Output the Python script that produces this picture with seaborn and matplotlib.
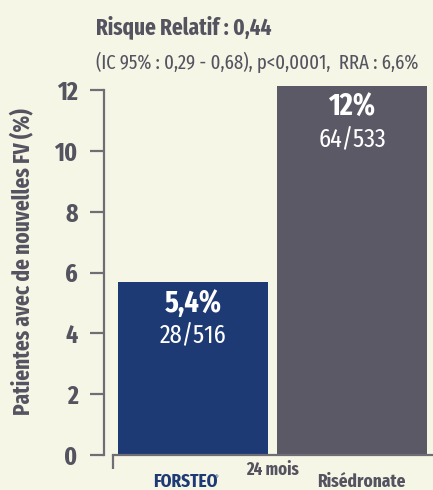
import matplotlib
matplotlib.use("Agg")
import matplotlib.pyplot as plt
import seaborn as sns

# ---- data ----
categories = ["FORSTEO", "Risédronate"]
values = [5.7, 12.15]
pct_labels = ["5,4%", "12%"]
count_labels = ["28/516", "64/533"]
yticks = [0, 2, 4, 6, 8, 10, 12]
title = "Risque Relatif : 0,44"
subtitle = "(IC 95% : 0,29 - 0,68), p<0,0001,  RRA : 6,6%"
ylabel = "Patientes avec de nouvelles FV (%)"
xlabel_mid = "24 mois"

BG = "#F5F6E6"
NAVY = "#1E3A74"
GRAY = "#5B5966"
TEXT = "#55535F"
AXIS = "#6E6E74"
FONT = "Fira Sans Extra Condensed"

sns.set_theme(style="white")
plt.rcParams["font.family"] = [FONT, "DejaVu Sans"]

W, H = 433, 490
fig = plt.figure(figsize=(W / 100, H / 100), dpi=100, facecolor=BG)

px_per_unit = 30.4
y0 = 455
ytop = 12.5
ax = fig.add_axes([104 / W, (H - y0) / H, (W - 104) / W, ytop * px_per_unit / H])
ax.set_facecolor(BG)

sns.barplot(x=categories, y=values, hue=categories, palette=[NAVY, GRAY],
            width=0.943, saturation=1, legend=False, ax=ax, linewidth=0)

spacing = 159.0
c0 = 193.0
ax.set_xlim(-(c0 - 104) / spacing, (W - c0) / spacing)
ax.set_ylim(0, ytop)

for s in ["top", "right"]:
    ax.spines[s].set_visible(False)
for s in ["left", "bottom"]:
    ax.spines[s].set_color(AXIS)
    ax.spines[s].set_linewidth(1.6)
ax.spines["left"].set_bounds(0, 12)
xstart = (113 - c0) / spacing
ax.spines["bottom"].set_bounds(xstart, (W - c0) / spacing)

ax.set_yticks(yticks)
ax.set_yticklabels([str(t) for t in yticks])
ax.tick_params(axis="y", direction="out", length=10, width=1.6, color=AXIS,
               pad=9, labelsize=18.5, labelcolor=TEXT, left=True)
for lab in ax.get_yticklabels():
    lab.set_fontweight("bold")

ax.set_xticks([xstart])
ax.set_xticklabels([""])
ax.tick_params(axis="x", which="major", direction="out", length=10, width=1.6,
               color=AXIS, bottom=True)
ax.set_xlabel("")
ax.set_ylabel("")

# category labels under the axis
label_dx = [-8, 9]  # pixel shift of each label from its bar centre
for i, (cat, col, dx) in enumerate(zip(categories, [NAVY, TEXT], label_dx)):
    ax.annotate(cat, xy=(i, 0), xytext=(dx * 0.72, -23), textcoords="offset points",
                ha="center", va="baseline", fontsize=13.5, fontweight="bold",
                color=col, annotation_clip=False)
# registered mark after FORSTEO
ax.annotate("®", xy=(0, 0), xytext=(15.6, -16.0), textcoords="offset points",
            ha="left", va="center", fontsize=5, color=NAVY, annotation_clip=False)

ax.annotate(xlabel_mid, xy=(0.502, 0), xytext=(0, -10.5), textcoords="offset points",
            ha="center", va="center", fontsize=13, fontweight="bold", color=TEXT,
            annotation_clip=False)

for i, (v, p, c) in enumerate(zip(values, pct_labels, count_labels)):
    ax.annotate(p, xy=(i, v), xytext=(0, -16), textcoords="offset points",
                ha="center", va="center", fontsize=22, fontweight="bold", color="white")
    ax.annotate(c, xy=(i, v), xytext=(0, -39), textcoords="offset points",
                ha="center", va="center", fontsize=19, fontweight="normal", color="white")

fig.text(23 / W, 1 - 262 / H, ylabel, rotation=90, ha="center", va="center",
         fontsize=16.7, fontweight="bold", color=TEXT)
fig.text(96 / W, 1 - 34 / H, title, ha="left", va="baseline",
         fontsize=16.5, fontweight="bold", color=TEXT)
fig.text(96 / W, 1 - 69 / H, subtitle, ha="left", va="baseline",
         fontsize=14.6, fontweight="normal", color=TEXT)

fig.savefig("out.png", dpi=100, facecolor=BG)
